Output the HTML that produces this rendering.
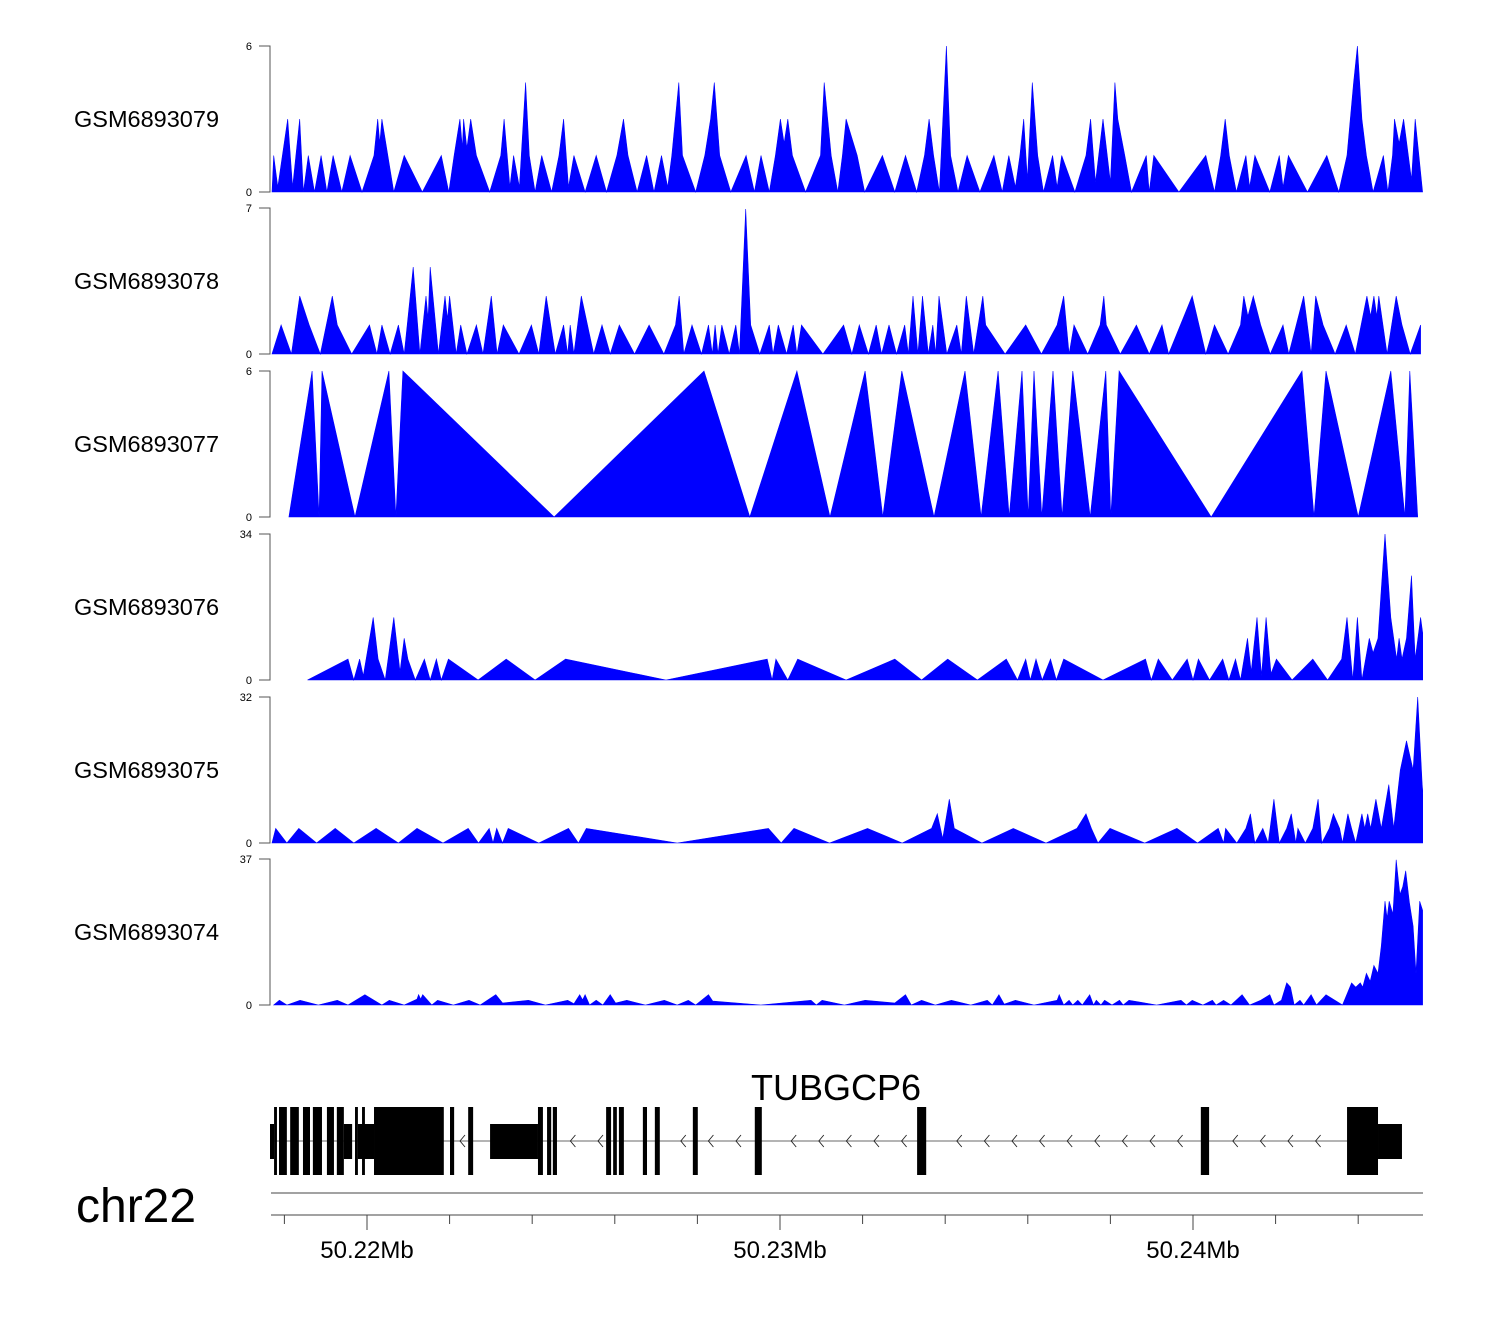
<!DOCTYPE html>
<html><head><meta charset="utf-8">
<style>
html,body{margin:0;padding:0;background:#fff;}
svg{display:block;font-family:"Liberation Sans",Arial,sans-serif;}
</style></head>
<body>
<svg id="chart" width="1500" height="1320" viewBox="0 0 1500 1320" xmlns="http://www.w3.org/2000/svg">
<defs><clipPath id="clip"><rect x="271" y="0" width="1152" height="1320"/></clipPath></defs>
<g id="tracks"></g>
<g id="gene"></g>
<g id="axis"></g>
</svg>
<script>
// ---- data (positions in kb from chr22:50,217,700) ----
const regionStartKb = 50217.70;
const trackNames = ["GSM6893079","GSM6893078","GSM6893077","GSM6893076","GSM6893075","GSM6893074"];
const trackMax = [6,7,6,34,32,37];

const t1Pos = [0,0.04,0.14,0.38,0.50,0.67,0.76,0.88,1.03,1.19,1.33,1.48,1.69,1.89,2.18,2.47,2.56,2.61,2.66,2.95,3.20,3.64,4.10,4.28,4.41,4.55,4.61,4.64,4.72,4.81,4.95,5.27,5.54,5.62,5.76,5.85,5.99,6.14,6.23,6.37,6.53,6.77,6.95,7.06,7.18,7.31,7.58,7.85,8.10,8.35,8.51,8.62,8.84,9.07,9.25,9.43,9.58,9.68,9.85,9.94,10.26,10.48,10.62,10.71,10.84,11.11,11.48,11.68,11.84,12.04,12.19,12.31,12.40,12.49,12.60,12.92,13.28,13.37,13.54,13.70,13.81,13.90,14.17,14.35,14.78,15.08,15.34,15.61,15.80,15.91,16.02,16.16,16.33,16.43,16.61,16.83,17.14,17.48,17.68,17.84,18.00,18.11,18.20,18.29,18.41,18.54,18.68,18.90,19.01,19.12,19.44,19.71,19.82,19.94,20.12,20.30,20.41,20.48,20.65,20.81,21.17,21.24,21.35,21.96,22.61,22.82,22.97,23.08,23.18,23.35,23.58,23.67,23.80,24.16,24.39,24.48,24.61,25.07,25.54,25.83,26.03,26.19,26.28,26.39,26.50,26.66,26.91,27.02,27.13,27.18,27.29,27.40,27.59,27.68,27.86];
const t1Val = [0,1.5,0.2,3,0.2,3,0,1.5,0,1.5,0,1.5,0,1.5,0,1.5,3,2,3,0,1.5,0,1.5,0,1.5,3,1.8,3,1.8,3,1.5,0,1.5,3,0.2,1.5,0.2,4.5,1.5,0,1.5,0,1.5,3,0.2,1.5,0,1.5,0,1.5,3,1.5,0,1.5,0,1.5,0.2,1.5,4.5,1.5,0,1.5,3,4.5,1.5,0,1.5,0,1.5,0,1.5,3,2,3,1.5,0,1.5,4.5,1.5,0,1.5,3,1.5,0,1.5,0,1.5,0,1.5,3,1.5,0,6,1.5,0,1.5,0,1.5,0,1.5,0.2,1.5,3,0.5,4.5,1.5,0,1.5,0.2,1.5,0,1.5,3,0.4,3,0.4,4.5,3,1.5,0,1.5,0,1.5,0,1.5,0,1.5,3,1.5,0,1.5,0.2,1.5,0,1.5,0.2,1.5,0,1.5,0,1.5,4.5,6,3,1.5,0,1.5,0,1.5,3,2,3,0.5,3,0];

const t2Pos = [0,0.22,0.47,0.67,0.90,1.17,1.46,1.58,1.93,2.36,2.54,2.66,2.86,3.06,3.20,3.42,3.58,3.73,3.78,3.83,4.03,4.19,4.25,4.30,4.46,4.57,4.72,4.95,5.11,5.31,5.45,5.60,5.98,6.28,6.46,6.64,6.86,7.06,7.16,7.22,7.31,7.49,7.79,7.99,8.19,8.41,8.78,9.13,9.49,9.77,9.86,9.97,10.17,10.40,10.57,10.66,10.73,10.80,10.89,11.07,11.23,11.32,11.47,11.59,11.81,12.04,12.13,12.26,12.46,12.62,12.71,12.82,13.34,13.84,14.04,14.22,14.44,14.63,14.76,14.94,15.12,15.32,15.41,15.52,15.64,15.75,15.89,16.00,16.07,16.15,16.34,16.58,16.69,16.81,16.99,17.21,17.28,17.75,18.25,18.63,19.01,19.17,19.30,19.42,19.75,20.05,20.14,20.20,20.54,20.93,21.24,21.55,21.71,22.28,22.61,22.82,23.15,23.45,23.53,23.63,23.76,23.94,24.17,24.48,24.62,24.98,25.16,25.27,25.45,25.74,26.01,26.23,26.51,26.60,26.68,26.75,26.80,27.00,27.22,27.36,27.56,27.81];
const t2Val = [0,1.39,0,2.78,1.39,0,2.78,1.39,0,1.39,0,1.39,0,1.39,0,4.17,0,2.78,1.67,4.17,0,2.78,1.67,2.78,0,1.39,0,1.39,0,2.78,0,1.39,0,1.39,0,2.78,0,1.39,0,1.39,0,2.78,0,1.39,0,1.39,0,1.39,0,1.39,2.78,0,1.39,0,1.39,0,1.39,0,1.39,0,1.39,0,6.95,1.39,0,1.39,0,1.39,0,1.39,0,1.39,0,1.39,0,1.39,0,1.39,0,1.39,0,1.39,0,2.78,0,2.78,0,1.39,0,2.78,0,1.39,0,2.78,0,2.78,1.39,0,1.39,0,1.39,2.78,0,1.39,0,1.39,2.78,1.39,0,1.39,0,1.39,0,2.78,0,1.39,0,1.39,2.78,1.81,2.78,1.39,0,1.39,0,2.78,0,2.78,1.39,0,1.39,0,2.78,1.81,2.78,1.81,2.78,0,2.78,1.39,0,1.39];

const t3Pos = [0.41,0.97,1.14,1.21,2.01,2.83,3.00,3.17,6.83,10.46,11.57,12.71,13.51,14.36,14.79,15.25,16.03,16.78,17.17,17.58,17.85,18.16,18.31,18.45,18.64,18.91,19.13,19.39,19.81,20.19,20.31,20.51,22.74,24.94,25.23,25.52,26.30,27.09,27.43,27.55,27.74];
const t3Val = [0,6,0,6,0,6,0,6,0,6,0,6,0,6,0,6,0,6,0,6,0,6,0,6,0,6,0,6,0,6,0,6,0,6,0,6,0,6,0,6,0];

const t4Pos = [0.86,1.84,1.98,2.12,2.21,2.45,2.57,2.74,2.95,3.10,3.20,3.29,3.47,3.69,3.83,3.98,4.10,4.27,4.99,5.67,6.37,7.11,9.54,11.99,12.11,12.20,12.49,12.73,13.90,15.08,15.73,16.36,17.08,17.78,18.05,18.25,18.36,18.50,18.65,18.85,18.99,19.17,20.12,21.15,21.29,21.46,21.80,22.16,22.30,22.43,22.70,23.02,23.17,23.33,23.45,23.62,23.71,23.85,23.96,24.07,24.19,24.32,24.70,25.20,25.56,25.90,26.03,26.17,26.28,26.39,26.57,26.66,26.78,26.95,27.09,27.23,27.29,27.36,27.47,27.59,27.68,27.81,27.88];
const t4Val = [0,4.86,0,4.86,0.97,14.57,4.86,0,14.57,1.94,9.71,4.86,0,4.86,0,4.86,0,4.86,0,4.86,0,4.86,0,4.86,0,4.86,0,4.86,0,4.86,0,4.86,0,4.86,0,4.86,0,4.86,0,4.86,0,4.86,0,4.86,0,4.86,0,4.86,0,4.86,0,4.86,0,4.86,0,9.71,1.94,14.57,0.97,14.57,1.46,4.86,0,4.86,0,4.86,14.57,0,14.57,0,9.71,6.31,9.71,34,14.57,4.86,9.71,4.86,9.71,24.29,4.86,14.57,9.71];

const t5Pos = [0,0.09,0.36,0.65,1.08,1.53,1.98,2.52,3.06,3.51,4.14,4.75,5.00,5.26,5.35,5.44,5.58,5.72,6.46,7.18,7.42,7.61,9.81,12.02,12.33,12.64,13.50,14.42,15.26,15.97,16.11,16.24,16.40,16.52,17.19,17.95,18.74,19.49,19.71,19.84,20.00,20.29,21.13,21.91,22.41,22.91,23.04,23.09,23.36,23.58,23.69,23.80,23.99,24.12,24.26,24.39,24.57,24.68,24.79,24.84,25.02,25.20,25.33,25.42,25.60,25.70,25.85,25.92,26.05,26.14,26.24,26.39,26.46,26.53,26.60,26.73,26.86,27.04,27.16,27.32,27.47,27.63,27.74,27.85,27.88];
const t5Val = [0,3.2,0,3.2,0,3.2,0,3.2,0,3.2,0,3.2,0,3.2,0,3.2,0,3.2,0,3.2,0,3.2,0,3.2,0,3.2,0,3.2,0,3.2,6.4,0.96,9.6,3.2,0,3.2,0,3.2,6.4,3.2,0,3.2,0,3.2,0,3.2,0,3.2,0,3.2,6.4,0,3.2,0,9.6,0,3.2,6.4,0,3.2,0,3.2,9.6,0,3.2,6.4,3.2,0,6.4,3.2,0,6.4,3.2,6.4,3.2,9.6,3.2,12.8,3.2,16,22.4,16,32,12.8,9.6];

const t6Pos = [0.04,0.18,0.36,0.68,1.12,1.58,1.84,2.25,2.66,2.84,3.20,3.51,3.55,3.60,3.65,3.87,4.01,4.39,4.77,5.04,5.42,5.58,6.21,6.62,7.16,7.31,7.45,7.52,7.58,7.69,7.85,8.01,8.19,8.32,8.59,9.04,9.50,9.81,10.08,10.26,10.57,10.67,11.84,13.05,13.18,13.32,13.86,14.36,15.08,15.34,15.48,15.73,16.06,16.45,16.92,17.32,17.44,17.60,17.73,18.00,18.45,19.01,19.06,19.17,19.30,19.39,19.51,19.62,19.80,19.89,19.96,20.07,20.16,20.34,20.52,20.61,20.75,21.42,22.01,22.14,22.28,22.54,22.77,22.86,23.04,23.22,23.49,23.67,23.94,24.16,24.26,24.44,24.57,24.66,24.75,24.89,24.98,25.16,25.29,25.52,25.92,26.14,26.24,26.35,26.41,26.50,26.59,26.68,26.78,26.86,26.95,27.00,27.05,27.14,27.22,27.31,27.38,27.45,27.54,27.63,27.70,27.79,27.86];
const t6Val = [0,1.2,0,1.2,0,1.2,0,2.6,0,1.2,0,1.5,2.6,1.5,2.6,0,1.2,0,1.2,0,2.6,0.5,1.2,0,1.2,0.3,2.6,1.3,2.6,0,1.2,0,2.6,0.5,1.2,0,1.2,0,1.2,0,2.6,1,0,1.2,0,1.2,0,1.2,0.5,2.6,0,1.2,0,1.2,0,1.2,0,2.6,0.2,1.2,0,1.2,2.6,0,1.2,0,1.2,0,2.6,0,1.2,0,1.2,0,1.2,0,1.2,0,1.2,0,1.2,0,1.2,0,1.2,0,2.6,0,1.2,2.6,0,1.2,5.6,4.5,0,1.2,0,2.6,0,2.6,0,5.6,4.5,5.6,4.5,8,6,10,8,15,26.3,22,26.3,23,36.8,28,30,34,26,20,8,26.3,24];

// gene model (kb from region start)
const exonStart = [0.05,0.17,0.44,0.75,0.99,1.33,1.57,2.01,2.18,2.47,4.31,4.75,6.44,6.66,6.80,8.09,8.26,8.40,8.98,9.27,10.19,11.69,15.62,22.49,26.03];
const exonEnd   = [0.12,0.36,0.65,0.92,1.21,1.50,1.74,2.08,2.25,4.16,4.41,4.87,6.56,6.76,6.90,8.21,8.35,8.52,9.08,9.39,10.31,11.86,15.84,22.69,26.78];
const utrStart = [-0.05,1.74,2.08,5.28,26.78];
const utrEnd   = [0.05,1.94,2.47,6.44,27.36];
const geneStartKb = 0.0, geneEndKb = 27.36;

// axis ticks (Mb)
const tickMb = [50.218,50.220,50.222,50.224,50.226,50.228,50.230,50.232,50.234,50.236,50.238,50.240,50.242,50.244];
const labelMb = [50.22,50.23,50.24];
const labelText = ["50.22Mb","50.23Mb","50.24Mb"];

// ---- layout ----
const NS = "http://www.w3.org/2000/svg";
const X0 = 272, PX_PER_KB = 41.3, XR = 1422;
const trackTop = [46,208,371,534,697,859];
const TRACK_H = 146;
function xScale(kb){ return X0 + kb*PX_PER_KB; }
function xMb(mb){ return xScale(mb*1000 - regionStartKb); }
function mk(tag, attrs, parent){ const e=document.createElementNS(NS,tag); for(const k in attrs) e.setAttribute(k,attrs[k]); parent.appendChild(e); return e; }

const posArr = [t1Pos,t2Pos,t3Pos,t4Pos,t5Pos,t6Pos];
const valArr = [t1Val,t2Val,t3Val,t4Val,t5Val,t6Val];
const tracksG = document.getElementById('tracks');

trackNames.forEach((name,i)=>{
  const top = trackTop[i], bot = top + TRACK_H, max = trackMax[i];
  const yS = v => bot - v/max*TRACK_H;
  const g = mk('g',{},tracksG);
  
  
  const t = mk('text',{x:74,y:(top+bot)/2+8,'font-size':23.5,fill:'#000'},g);
  t.textContent = name;
  
  
  const ax = mk('path',{d:`M259 ${top}H270V${bot}H259`,stroke:'#555',fill:'none','stroke-width':1},g);
  
  
  const tt = mk('text',{x:252,y:top+4,'font-size':11,'text-anchor':'end',fill:'#000'},g);
  tt.textContent = String(max);
  
  
  const tb = mk('text',{x:252,y:bot+4,'font-size':11,'text-anchor':'end',fill:'#000'},g);
  tb.textContent = "0";
  
  
  const P = posArr[i], V = valArr[i];
  let d = `M${xScale(P[0]).toFixed(1)} ${bot}`;
  for(let k=0;k<P.length;k++) d += ` L${xScale(P[k]).toFixed(1)} ${yS(V[k]).toFixed(1)}`;
  d += ` L${xScale(P[P.length-1]).toFixed(1)} ${bot} Z`;
  const area = mk('path',{d:d,fill:'#0000ff',stroke:'#0000ff','stroke-width':0.6,'clip-path':'url(#clip)'},g);
  
  
});

// gene model
const geneG = document.getElementById('gene');
const gt = mk('text',{x:836,y:1100,'font-size':36,'text-anchor':'middle',fill:'#000'},geneG);
gt.textContent = "TUBGCP6";


const intron = mk('line',{x1:xScale(geneStartKb),x2:xScale(geneEndKb),y1:1141,y2:1141,stroke:'#888','stroke-width':1.2},geneG);


function inExon(x){ for(let k=0;k<exonStart.length;k++){ if(x>xScale(exonStart[k])-8 && x<xScale(exonEnd[k])+4) return true;} for(let k=0;k<utrStart.length;k++){ if(x>xScale(utrStart[k])-8 && x<xScale(utrEnd[k])+4) return true;} return false; }
let cd = "";
for(let x=460; x<1345; x+=27.6){ if(!inExon(x)) cd += `M${(x+5).toFixed(1)} 1135 L${x.toFixed(1)} 1141 L${(x+5).toFixed(1)} 1147 `; }
const chev = mk('path',{d:cd,stroke:'#222',fill:'none','stroke-width':0.9},geneG);


utrStart.forEach((s,k)=>{
  const r = mk('rect',{x:Math.max(270,xScale(s)),y:1124,width:xScale(utrEnd[k])-Math.max(270,xScale(s)),height:35,fill:'#000'},geneG);
  
  
});
exonStart.forEach((s,k)=>{
  const r = mk('rect',{x:xScale(s),y:1107,width:xScale(exonEnd[k])-xScale(s),height:68,fill:'#000'},geneG);
  
  
});

// axis
const axG = document.getElementById('axis');
const chr = mk('text',{x:76,y:1222,'font-size':48,fill:'#000'},axG);
chr.textContent = "chr22";


const l1 = mk('line',{x1:271,x2:1423,y1:1193,y2:1193,stroke:'#444','stroke-width':1},axG);


const l2 = mk('line',{x1:271,x2:1423,y1:1215,y2:1215,stroke:'#444','stroke-width':1},axG);


tickMb.forEach(mb=>{
  const x = xMb(mb);
  const tk = mk('line',{x1:x,x2:x,y1:1215,y2:1224,stroke:'#444','stroke-width':1},axG);
  
  
});
labelMb.forEach((mb,k)=>{
  const x = xMb(mb);
  const tk = mk('line',{x1:x,x2:x,y1:1215,y2:1230,stroke:'#444','stroke-width':1},axG);
  
  
  const tl = mk('text',{x:x,y:1258,'font-size':24,'text-anchor':'middle',fill:'#000'},axG);
  tl.textContent = labelText[k];
  
  
});
</script>
</body></html>
